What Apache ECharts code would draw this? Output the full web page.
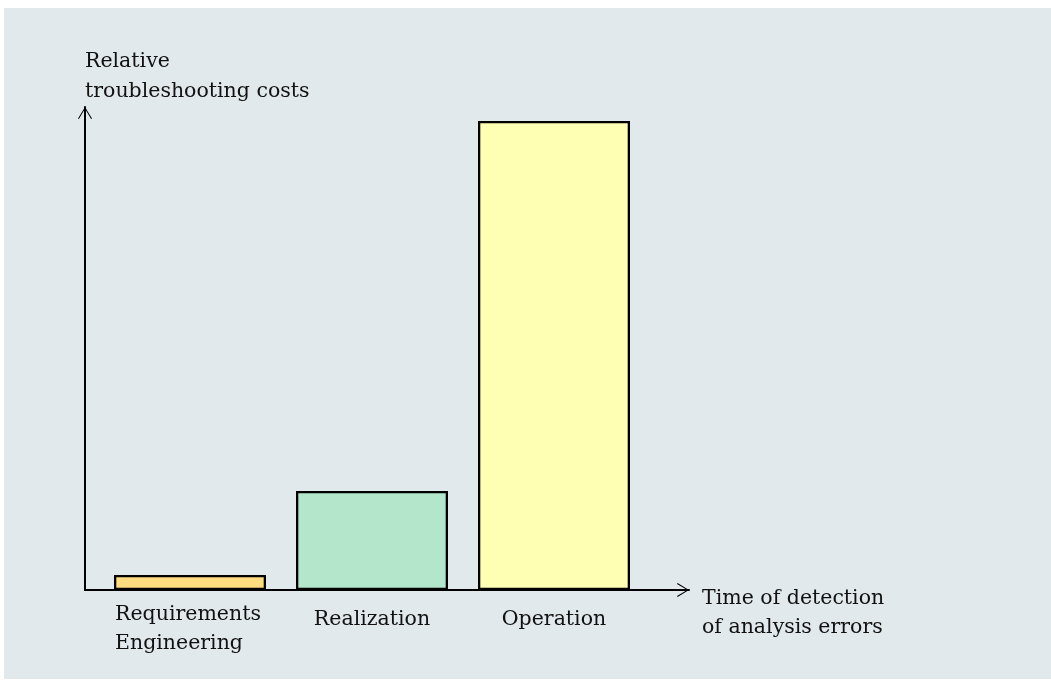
<!DOCTYPE html>
<html>
<head>
<meta charset="utf-8">
<script src="https://cdn.jsdelivr.net/npm/echarts@6/dist/echarts.min.js"></script>
<style>
  html, body { margin: 0; padding: 0; background: #ffffff; }
  #wrap { position: relative; width: 1051px; height: 682px; overflow: hidden; }
  #bg { position: absolute; left: 4px; top: 8px; width: 1047px; height: 671px; background: #e1e9ec; }
  #chart { position: absolute; left: 0; top: 0; width: 1051px; height: 682px; }
</style>
</head>
<body>
<div id="wrap"><div id="bg"></div><div id="chart"></div></div>
<script>
const categories = ['Requirements\nEngineering', 'Realization', 'Operation'];
const costs = [3.2, 21.1, 100];
const barColors = ['#ffdc7f', '#b4e6cc', '#ffffb4'];
const yAxisTitle = 'Relative\ntroubleshooting costs';
const xAxisTitleLines = ['Time of detection', 'of analysis errors'];

const FONT = 'DejaVu Serif';
const FS = 20.5;
const TXT = '#111';
const chevron = 'path://M0,11.4 L7,0 L14,11.4 L13.1,12 L7,1.8 L0.9,12 Z';

const chart = echarts.init(document.getElementById('chart'), null, { renderer: 'canvas' });
chart.setOption({
  backgroundColor: 'transparent',
  animation: false,
  grid: [
    { left: 85, top: 107, width: 604, height: 483 },
    { left: 99, top: 121, width: 546, height: 469 }
  ],
  xAxis: [
    {
      gridIndex: 0, type: 'value', min: 0, max: 1,
      axisLine: { show: true, onZero: false, lineStyle: { color: '#000', width: 2 },
        symbol: ['none', chevron], symbolSize: [14, 12], symbolOffset: [0, -6] },
      axisTick: { show: false }, axisLabel: { show: false }, splitLine: { show: false },
      name: '{t1|' + xAxisTitleLines[0] + '}\n{t2|' + xAxisTitleLines[1] + '}',
      nameLocation: 'end', nameGap: 13,
      nameTextStyle: { fontFamily: FONT, fontSize: FS, color: TXT, align: 'left',
        verticalAlign: 'top',
        rich: {
          t1: { fontFamily: FONT, fontSize: FS, color: TXT, lineHeight: 18 },
          t2: { fontFamily: FONT, fontSize: FS, color: TXT, lineHeight: 40 }
        }
      }
    },
    {
      gridIndex: 1, type: 'category', data: categories,
      axisLine: { show: false }, axisTick: { show: false }, splitLine: { show: false },
      axisLabel: {
        margin: 10, interval: 0,
        fontFamily: FONT, fontSize: FS, color: TXT, lineHeight: 28,
        formatter: function (v) {
          if (v.indexOf('\n') >= 0) {
            return v.split('\n').map(function (s) { return '{a|' + s + '}'; }).join('\n');
          }
          return '{b|' + v + '}';
        },
        rich: {
          a: { fontFamily: FONT, fontSize: FS, color: TXT, lineHeight: 29, width: 150, align: 'left' },
          b: { fontFamily: FONT, fontSize: FS, color: TXT, lineHeight: 40 }
        }
      }
    }
  ],
  yAxis: [
    {
      gridIndex: 0, type: 'value', min: 0, max: 1,
      axisLine: { show: true, onZero: false, lineStyle: { color: '#000', width: 2 },
        symbol: ['none', chevron], symbolSize: [14, 12], symbolOffset: [0, -6] },
      axisTick: { show: false }, axisLabel: { show: false }, splitLine: { show: false },
      name: yAxisTitle, nameLocation: 'end', nameGap: 0,
      nameTextStyle: { fontFamily: FONT, fontSize: FS, color: TXT, align: 'left',
        verticalAlign: 'bottom', lineHeight: 30 }
    },
    {
      gridIndex: 1, type: 'value', min: 0, max: 100,
      axisLine: { show: false }, axisTick: { show: false }, axisLabel: { show: false },
      splitLine: { show: false }
    }
  ],
  series: [
    {
      type: 'bar', xAxisIndex: 1, yAxisIndex: 1, barWidth: 152,
      data: costs.map(function (v, i) {
        return { value: v, itemStyle: { color: barColors[i] } };
      }),
      itemStyle: { borderColor: '#000', borderWidth: 2.3 },
      emphasis: { disabled: true }
    }
  ]
});
</script>
</body>
</html>
